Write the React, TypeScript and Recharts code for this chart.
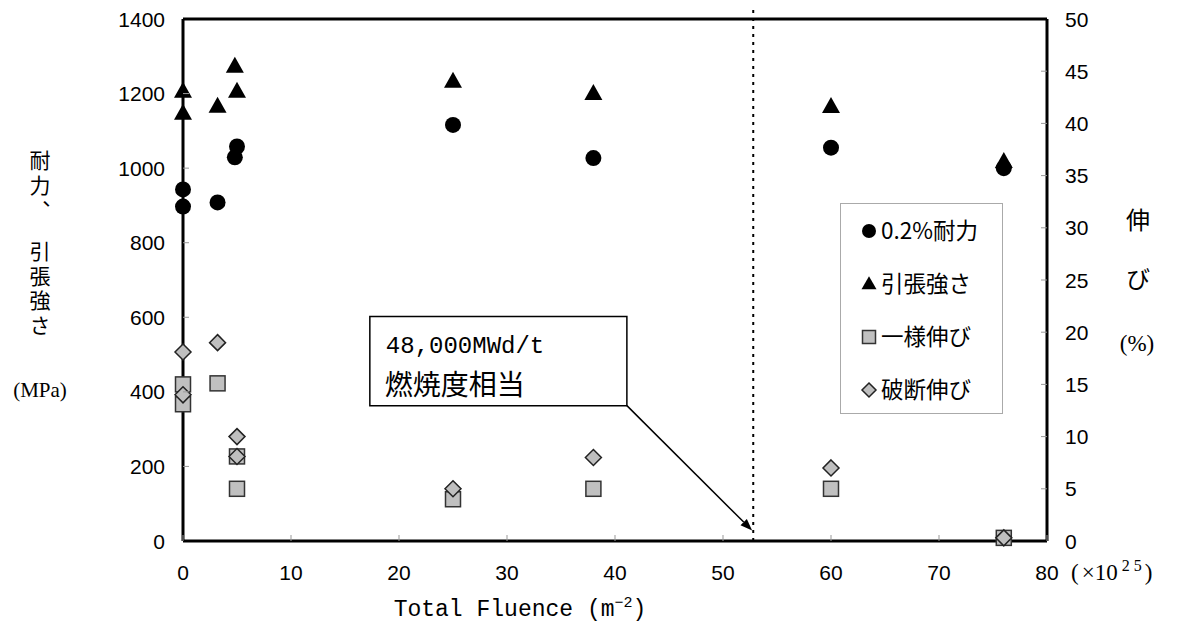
import React from 'react'
import {
  ScatterChart, Scatter, XAxis, YAxis, ReferenceLine, ReferenceArea, Legend,
} from 'recharts'

// fluence (x10^25 m^-2) and values
const xTicks = [0, 10, 20, 30, 40, 50, 60, 70, 80]
const leftTicks = [0, 200, 400, 600, 800, 1000, 1200, 1400]
const rightTicks = [0, 5, 10, 15, 20, 25, 30, 35, 40, 45, 50]

const proofX = [0, 0, 3.2, 5, 4.8, 25, 38, 60, 76]
const proofY = [943, 897, 908, 1058, 1029, 1116, 1027, 1055, 1000]

const tensileX = [0, 0, 3.2, 4.8, 5, 25, 38, 60, 76]
const tensileY = [1203, 1144, 1163, 1270, 1203, 1230, 1197, 1162, 1015]

const uniformX = [0, 0, 3.2, 5, 5, 25, 38, 60, 76]
const uniformY = [15.0, 13.1, 15.1, 8.1, 5.0, 4.0, 5.0, 5.0, 0.3]

const breakX = [0, 0, 3.2, 5, 5, 25, 38, 60, 76]
const breakY = [18.1, 14.0, 19.0, 10.0, 8.1, 5.0, 8.0, 7.0, 0.3]

const seriesNames = ['0.2%耐力', '引張強さ', '一様伸び', '破断伸び']

const burnupFluence = 52.8

const pts = (xs: number[], ys: number[]) => xs.map((x, i) => ({ x, y: ys[i] }))

const SANS = '"Liberation Sans", Arial, sans-serif'
const JP = '"Noto Sans CJK JP", sans-serif'
const MONO = '"Liberation Mono", "Noto Sans CJK JP", monospace'
const SERIF = '"Liberation Serif", "Noto Sans CJK JP", serif'

const Dot = ({ cx, cy, r = 8 }: any) => <circle cx={cx} cy={cy} r={r} fill="#000" />
const Tri = ({ cx, cy, w = 18, h = 16 }: any) => (
  <polygon
    points={`${cx},${cy - (2 * h) / 3} ${cx - w / 2},${cy + h / 3} ${cx + w / 2},${cy + h / 3}`}
    fill="#000"
  />
)
const Sq = ({ cx, cy, s = 15 }: any) => (
  <rect x={cx - s / 2} y={cy - s / 2} width={s} height={s} fill="#c0c0c0" stroke="#333" strokeWidth={1.5} />
)
const Dia = ({ cx, cy, s = 8 }: any) => (
  <polygon
    points={`${cx},${cy - s} ${cx + s},${cy} ${cx},${cy + s} ${cx - s},${cy}`}
    fill="#bfbfbf" stroke="#222" strokeWidth={1.5}
  />
)

const XTick = ({ x, y, payload }: any) => (
  <g>
    <line x1={x} y1={y} x2={x} y2={y - 6} stroke="#999" />
    <text x={x} y={y + 39} textAnchor="middle" fontFamily={SANS} fontSize={21} fill="#000">{payload.value}</text>
  </g>
)
const LTick = ({ x, y, payload }: any) => (
  <g>
    {payload.value > 0 && payload.value < 1400 && <line x1={x} y1={y} x2={x + 6} y2={y} stroke="#999" />}
    <text x={x - 18} y={y + 7.5} textAnchor="end" fontFamily={SANS} fontSize={21} fill="#000">{payload.value}</text>
  </g>
)
const RTick = ({ x, y, payload }: any) => (
  <g>
    {payload.value > 0 && payload.value < 50 && <line x1={x} y1={y} x2={x - 6} y2={y} stroke="#999" />}
    <text x={x + 18} y={y + 7.5} textAnchor="start" fontFamily={SANS} fontSize={21} fill="#000">{payload.value}</text>
  </g>
)

const vertical = { writingMode: 'vertical-rl' as const }

const LeftTitle = () => (
  <g fill="#000" fontFamily={JP} fontSize={21}>
    <text x={40} y={150} style={vertical} letterSpacing={4}>耐力、</text>
    <text x={40} y={241} style={vertical} letterSpacing={3.5}>引張強さ</text>
    <text x={40} y={397} textAnchor="middle" fontFamily={SERIF} fontSize={21}>(MPa)</text>
  </g>
)
const RightTitle = () => (
  <g fill="#000">
    <text x={1138} y={229} textAnchor="middle" fontFamily={JP} fontSize={24}>伸</text>
    <text x={1138} y={288} textAnchor="middle" fontFamily={JP} fontSize={24}>び</text>
    <text x={1137} y={351} textAnchor="middle" fontFamily={SERIF} fontSize={23}>(%)</text>
  </g>
)
const XTitle = () => (
  <g fill="#000">
    <text x={520} y={616} textAnchor="middle" fontFamily={MONO} fontSize={23}>
      Total Fluence (m<tspan dy={-9} fontSize={15}>−2</tspan><tspan dy={9}>)</tspan>
    </text>
    <text x={1071} y={580} fontFamily={SERIF} fontSize={23}>
      (<tspan dx={3}>×10</tspan>
      <tspan dx={4} dy={-9} fontSize={16}>2</tspan>
      <tspan dx={4} fontSize={16}>5</tspan>
      <tspan dx={3} dy={9}>)</tspan>
    </text>
  </g>
)

const legendShapes = [
  (cx: number, cy: number) => <Dot cx={cx} cy={cy} r={7} />,
  (cx: number, cy: number) => <Tri cx={cx} cy={cy + 1} w={15} h={13} />,
  (cx: number, cy: number) => <Sq cx={cx} cy={cy} s={13} />,
  (cx: number, cy: number) => <Dia cx={cx} cy={cy} s={7} />,
]

const LegendBox = ({ payload }: any) => {
  const shown = seriesNames.filter(n => (payload || []).some((p: any) => p.value === n))
  return (
    <div style={{ width: 163, height: 211, boxSizing: 'border-box', border: '1px solid #aaa', background: '#fff' }}>
      <svg width={161} height={209}>
        {shown.map(name => {
          const i = seriesNames.indexOf(name)
          return (
            <g key={name}>
              {legendShapes[i](28, 27 + i * 53)}
              <text x={40} y={35 + i * 53} fontFamily={JP} fontSize={22.5} fill="#000">{name}</text>
            </g>
          )
        })}
      </svg>
    </div>
  )
}

const Arrow = ({ x1, y1, x2, y2 }: any) => {
  const a = Math.atan2(y2 - y1, x2 - x1)
  const L = 12, W = 4.5
  const bx = x2 - L * Math.cos(a), by = y2 - L * Math.sin(a)
  const px = -Math.sin(a) * W, py = Math.cos(a) * W
  return (
    <g>
      <line x1={x1} y1={y1} x2={bx} y2={by} stroke="#000" strokeWidth={1.5} />
      <polygon points={`${x2},${y2} ${bx + px},${by + py} ${bx - px},${by - py}`} fill="#000" />
    </g>
  )
}

const NoteLabel = ({ viewBox }: any) => {
  const { x, y } = viewBox
  return (
    <g fill="#000">
      <text x={x + 16} y={y + 36} fontFamily={MONO} fontSize={24}>48,000MWd/t</text>
      <text x={x + 15} y={y + 78} fontFamily={JP} fontSize={28}>燃焼度相当</text>
    </g>
  )
}

export default function App() {
  return (
    <div style={{ position: 'absolute', left: 0, top: 0, background: '#fff' }}>
      <ScatterChart width={1179} height={634} margin={{ top: 19, right: 0, bottom: 0, left: 0 }}>
        <XAxis
          type="number" dataKey="x" domain={[0, 80]} ticks={xTicks} height={93}
          axisLine={{ stroke: '#000', strokeWidth: 3 }} tickLine={false} tickSize={0} tickMargin={0}
          tick={<XTick />} interval={0}
          label={{ content: () => <XTitle /> }}
        />
        <YAxis
          yAxisId="L" type="number" dataKey="y" domain={[0, 1400]} ticks={leftTicks} width={183}
          axisLine={{ stroke: '#000', strokeWidth: 3 }} tickLine={false} tickSize={0} tickMargin={0}
          tick={<LTick />} interval={0}
          label={{ content: () => <LeftTitle /> }}
        />
        <YAxis
          yAxisId="R" orientation="right" type="number" dataKey="y" domain={[0, 50]} ticks={rightTicks} width={132}
          axisLine={{ stroke: '#000', strokeWidth: 3 }} tickLine={false} tickSize={0} tickMargin={0}
          tick={<RTick />} interval={0}
          label={{ content: () => <RightTitle /> }}
        />
        <ReferenceLine yAxisId="L" y={1400} stroke="#000" strokeWidth={3} />
        <ReferenceLine
          yAxisId="L" segment={[{ x: burnupFluence, y: 0 }, { x: burnupFluence, y: 1425 }]}
          stroke="#000" strokeWidth={2} strokeDasharray="3 5" ifOverflow="visible"
        />
        <ReferenceArea
          yAxisId="L" x1={17.3} x2={41.1} y1={363} y2={602}
          fill="#fff" fillOpacity={1} stroke="#000" strokeWidth={1.5} ifOverflow="visible"
          label={<NoteLabel />}
        />
        <ReferenceLine
          yAxisId="L" segment={[{ x: 41.1, y: 363 }, { x: 52.7, y: 28 }]}
          ifOverflow="visible" shape={(p: any) => <Arrow {...p} />}
        />
        <Scatter name={seriesNames[0]} yAxisId="L" data={pts(proofX, proofY)} shape={<Dot />} isAnimationActive={false} />
        <Scatter name={seriesNames[1]} yAxisId="L" data={pts(tensileX, tensileY)} shape={<Tri />} isAnimationActive={false} />
        <Scatter name={seriesNames[2]} yAxisId="R" data={pts(uniformX, uniformY)} shape={<Sq />} isAnimationActive={false} />
        <Scatter name={seriesNames[3]} yAxisId="R" data={pts(breakX, breakY)} shape={<Dia />} isAnimationActive={false} />
        <Legend
          layout="vertical" align="center" verticalAlign="middle"
          content={<LegendBox />}
          wrapperStyle={{ left: 840, top: 203, width: 163, height: 211 }}
        />
      </ScatterChart>
    </div>
  )
}
